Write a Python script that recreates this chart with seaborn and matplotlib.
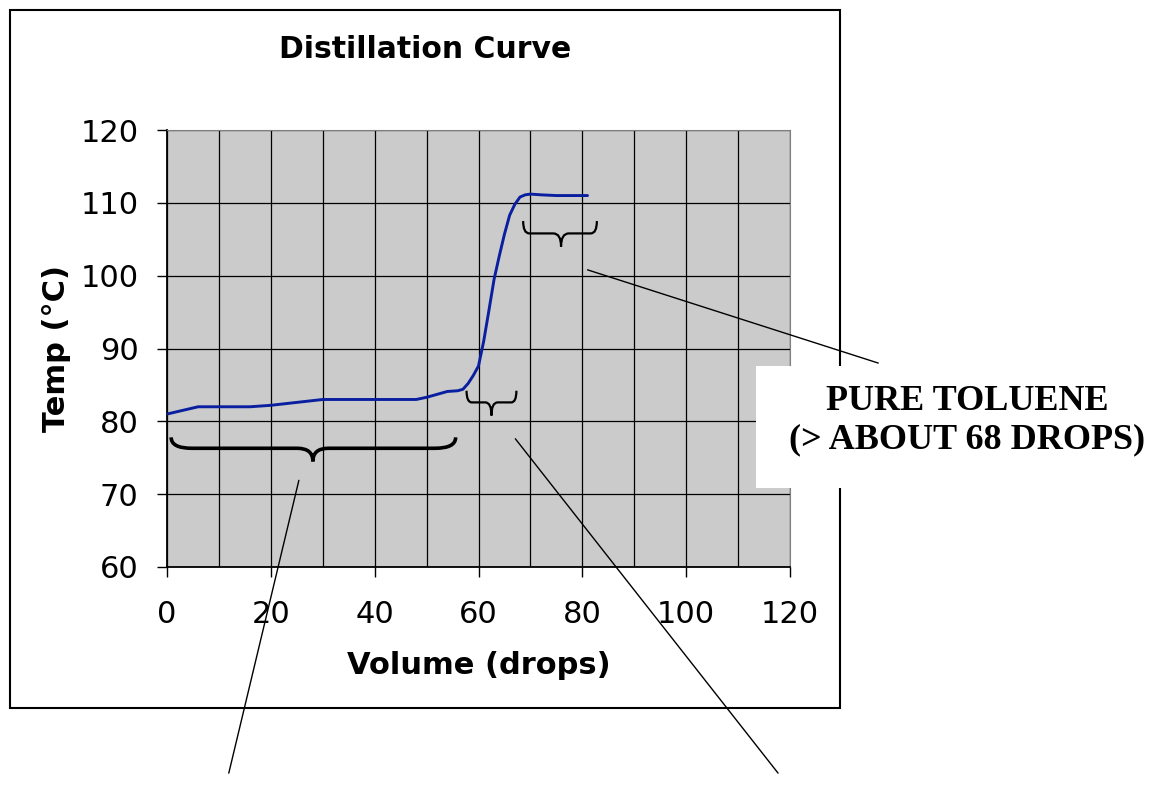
import numpy as np
import pandas as pd
import matplotlib
matplotlib.use('Agg')
import matplotlib.pyplot as plt
import seaborn as sns
from matplotlib.patches import Rectangle, PathPatch
from matplotlib.path import Path

# distillation readings (drops, deg C)
vol = [0, 3, 6, 10, 16, 20, 25, 30, 35, 40, 45, 48, 50, 52, 54, 56, 57,
       58, 59, 60, 61, 62, 63, 64, 65, 66, 67, 68, 69, 70, 72, 75, 78, 81]
temp = [81.0, 81.5, 82.0, 82.0, 82.0, 82.2, 82.6, 83.0, 83.0, 83.0, 83.0, 83.0,
        83.3, 83.7, 84.1, 84.2, 84.4, 85.2, 86.3, 87.6, 91.0, 95.2, 99.5,
        102.7, 105.7, 108.3, 109.8, 110.8, 111.1, 111.2, 111.1, 111.0, 111.0, 111.0]
df = pd.DataFrame({'Volume (drops)': vol, 'Temp (°C)': temp})

title = 'Distillation Curve'
label_text = 'PURE TOLUENE\n(> ABOUT 68 DROPS)'

sns.set_style('whitegrid', {'axes.facecolor': '#cbcbcb', 'grid.color': 'black',
                            'axes.edgecolor': '#808080', 'text.color': 'black',
                            'axes.labelcolor': 'black', 'xtick.color': 'black',
                            'ytick.color': 'black'})
plt.rcParams['font.family'] = ['DejaVu Sans']

W, H = 1159, 794
fig = plt.figure(figsize=(W / 100, H / 100), dpi=100)
ax = fig.add_axes([167 / W, 1 - 567 / H, (790 - 167) / W, (567 - 130) / H])

sns.lineplot(data=df, x='Volume (drops)', y='Temp (°C)', ax=ax,
             color='#0a1fa0', lw=2.1, zorder=3)

ax.set_xlim(0, 120)
ax.set_ylim(60, 120)
ax.set_xticks(np.arange(0, 121, 20))
ax.set_xticks(np.arange(0, 121, 10), minor=True)
ax.set_yticks(np.arange(60, 121, 10))
ax.grid(which='both', color='black', lw=0.9)
ax.tick_params(axis='both', which='major', direction='out', length=7, width=1,
               color='black', labelsize=22, left=True, bottom=True)
ax.tick_params(axis='x', which='major', pad=17)
ax.tick_params(axis='y', which='major', pad=13.5)
ax.tick_params(axis='x', which='minor', length=0)
for s in ['left', 'bottom']:
    ax.spines[s].set_color('black')
    ax.spines[s].set_linewidth(1.3)

ax.set_xlabel('Volume (drops)', fontsize=22, fontweight='bold', va='center')
ax.set_ylabel('Temp (°C)', fontsize=22, fontweight='bold', va='center')
ax.xaxis.set_label_coords(0.5, (567 - 666) / 437)
ax.yaxis.set_label_coords((57 - 167) / 623, 0.5)


def brace(x0, x1, xm, y_end, y_bar, y_tip, r_end, r_tip, lw):
    verts = [(x0, y_end), (x0, y_bar), (x0 + r_end, y_bar),
             (xm - r_tip, y_bar), (xm, y_bar), (xm, y_tip),
             (xm, y_bar), (xm + r_tip, y_bar),
             (x1 - r_end, y_bar), (x1, y_bar), (x1, y_end)]
    codes = [Path.MOVETO, Path.CURVE3, Path.CURVE3,
             Path.LINETO, Path.CURVE3, Path.CURVE3,
             Path.CURVE3, Path.CURVE3,
             Path.LINETO, Path.CURVE3, Path.CURVE3]
    ax.add_patch(PathPatch(Path(verts, codes), fill=False, ec='black', lw=lw, zorder=4))


brace(0.8, 55.6, 28.1, 77.8, 76.3, 74.5, 4.0, 3.0, 2.6)
brace(57.7, 67.3, 62.5, 84.2, 82.6, 80.8, 1.0, 1.2, 1.6)
brace(68.6, 82.8, 75.9, 107.5, 105.8, 104.0, 1.2, 1.5, 1.6)

# pointer lines
for (xa, ya), (xb, yb) in [((81.0, 100.8), (137.0, 88.0)),
                           ((25.4, 71.9), (11.9, 31.7)),
                           ((67.1, 77.6), (117.7, 31.7))]:
    ax.plot([xa, xb], [ya, yb], color='black', lw=1.0, clip_on=False, zorder=5)

# outer chart frame
fig.patches.append(Rectangle((10 / W, 1 - 708 / H), 830 / W, 698 / H,
                             transform=fig.transFigure, fill=False,
                             ec='black', lw=1.5, zorder=-1))
fig.text(425 / W, 1 - 50 / H, title, ha='center', va='center',
         fontsize=21.5, fontweight='bold')

# label box
fig.patches.append(Rectangle((756 / W, 1 - 488 / H), 403 / W, 122 / H,
                             transform=fig.transFigure, fc='white', ec='none',
                             zorder=6))
fig.text(967 / W, 1 - 421 / H, label_text, ha='center', va='center',
         fontsize=26, fontweight='bold', family=['Liberation Serif'],
         linespacing=1.2, zorder=7)

fig.savefig('out.png', dpi=100)
